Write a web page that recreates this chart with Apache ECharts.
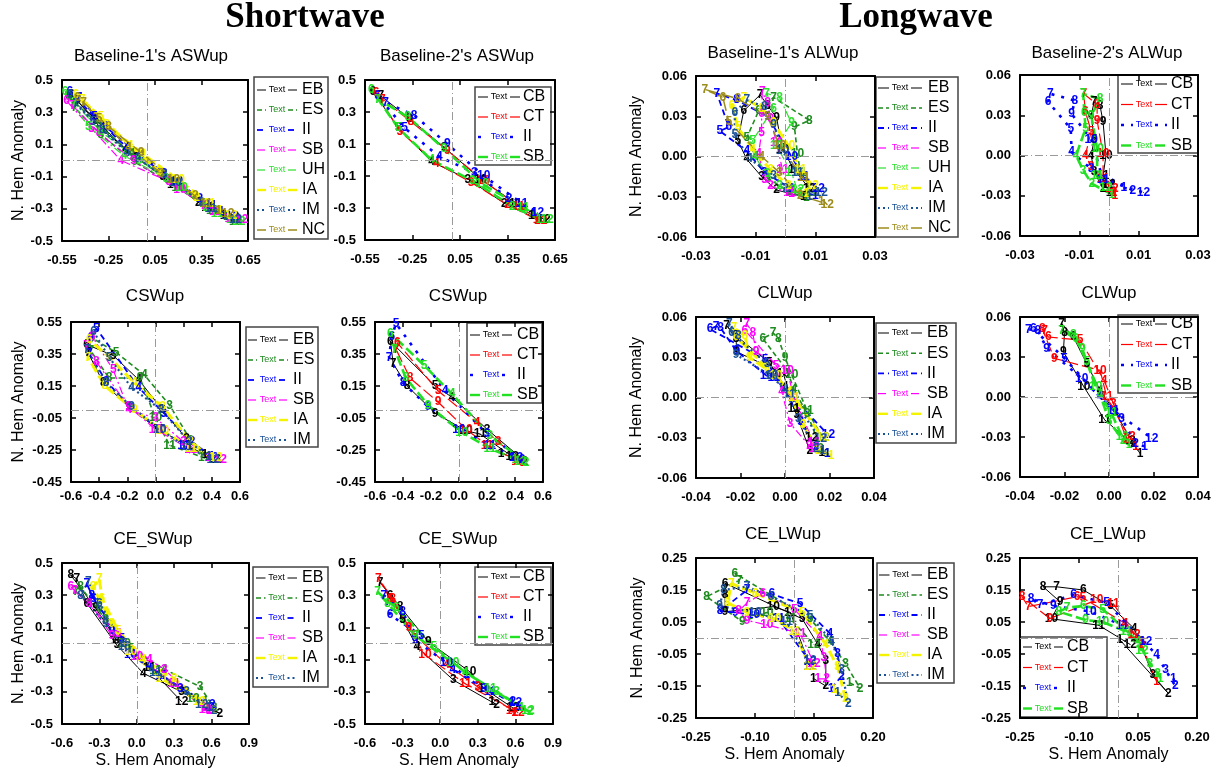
<!DOCTYPE html>
<html>
<head>
<meta charset="utf-8">
<script src="https://cdn.jsdelivr.net/npm/echarts@6/dist/echarts.min.js"></script>
<style>
html,body{margin:0;padding:0;background:#fff;}
#chart{width:1220px;height:769px;}
</style>
</head>
<body>
<div id="chart"></div>
<script>
// Month labels drawn at every point of each annual trajectory
const months = ['1','2','3','4','5','6','7','8','9','10','11','12'];

// Tick labels for each axis type
const swBaseXTicks = ['-0.55','-0.25','0.05','0.35','0.65'];
const swBaseYTicks = ['-0.5','-0.3','-0.1','0.1','0.3','0.5'];
const swCswXTicks = ['-0.6','-0.4','-0.2','0.0','0.2','0.4','0.6'];
const swCswYTicks = ['-0.45','-0.25','-0.05','0.15','0.35','0.55'];
const swCeXTicks = ['-0.6','-0.3','0.0','0.3','0.6','0.9'];
const swCeYTicks = ['-0.5','-0.3','-0.1','0.1','0.3','0.5'];
const lwBaseXTicks = ['-0.03','-0.01','0.01','0.03'];
const lwBaseYTicks = ['-0.06','-0.03','0.00','0.03','0.06'];
const lwClwXTicks = ['-0.04','-0.02','0.00','0.02','0.04'];
const lwClwYTicks = ['-0.06','-0.03','0.00','0.03','0.06'];
const lwCeXTicks = ['-0.25','-0.10','0.05','0.20'];
const lwCeYTicks = ['-0.25','-0.15','-0.05','0.05','0.15','0.25'];

// Series names per panel
const namesA8 = ['EB','ES','II','SB','UH','IA','IM','NC'];
const namesA6 = ['EB','ES','II','SB','IA','IM'];
const namesB4 = ['CB','CT','II','SB'];

// Monthly [S. Hem anomaly, N. Hem anomaly] pairs, months 1..12
const swBase1 = [
  [[0.49,-0.34],[0.33,-0.26],[0.10,-0.10],[-0.14,0.07],[-0.33,0.25],[-0.49,0.41],[-0.45,0.37],[-0.29,0.19],[-0.07,0.02],[0.17,-0.15],[0.39,-0.29],[0.56,-0.36]],
  [[0.51,-0.35],[0.36,-0.27],[0.13,-0.12],[-0.10,0.04],[-0.31,0.22],[-0.51,0.40],[-0.47,0.33],[-0.30,0.16],[-0.08,-0.01],[0.20,-0.17],[0.42,-0.31],[0.57,-0.38]],
  [[0.48,-0.32],[0.34,-0.24],[0.11,-0.08],[-0.13,0.08],[-0.34,0.27],[-0.50,0.43],[-0.44,0.39],[-0.27,0.21],[-0.04,0.03],[0.19,-0.13],[0.41,-0.28],[0.55,-0.35]],
  [[0.52,-0.36],[0.37,-0.28],[0.14,-0.13],[-0.17,0.00],[-0.36,0.20],[-0.52,0.37],[-0.48,0.34],[-0.31,0.17],[-0.09,0.00],[0.21,-0.18],[0.44,-0.32],[0.61,-0.37]],
  [[0.53,-0.37],[0.38,-0.29],[0.12,-0.11],[-0.15,0.03],[-0.38,0.21],[-0.53,0.43],[-0.47,0.36],[-0.30,0.18],[-0.05,0.00],[0.22,-0.17],[0.45,-0.33],[0.59,-0.38]],
  [[0.47,-0.31],[0.32,-0.23],[0.08,-0.07],[-0.11,0.09],[-0.30,0.27],[-0.46,0.41],[-0.42,0.38],[-0.26,0.22],[-0.03,0.04],[0.20,-0.12],[0.40,-0.27],[0.54,-0.34]],
  [[0.50,-0.34],[0.35,-0.26],[0.11,-0.09],[-0.13,0.05],[-0.35,0.24],[-0.50,0.41],[-0.46,0.35],[-0.29,0.19],[-0.06,0.01],[0.18,-0.14],[0.41,-0.30],[0.57,-0.37]],
  [[0.46,-0.31],[0.31,-0.22],[0.09,-0.08],[-0.12,0.08],[-0.31,0.26],[-0.45,0.39],[-0.41,0.36],[-0.25,0.21],[-0.04,0.05],[0.17,-0.12],[0.38,-0.27],[0.52,-0.33]]
];
const swBase2 = [
  [[0.50,-0.35],[0.33,-0.27],[0.10,-0.12],[-0.13,-0.01],[-0.34,0.20],[-0.50,0.43],[-0.45,0.40],[-0.27,0.26],[-0.05,0.08],[0.18,-0.12],[0.40,-0.27],[0.58,-0.37]],
  [[0.53,-0.37],[0.35,-0.28],[0.12,-0.14],[-0.10,-0.02],[-0.33,0.18],[-0.48,0.42],[-0.44,0.38],[-0.26,0.24],[-0.03,0.06],[0.20,-0.13],[0.42,-0.29],[0.56,-0.38]],
  [[0.52,-0.33],[0.36,-0.24],[0.14,-0.08],[-0.08,0.02],[-0.30,0.20],[-0.47,0.40],[-0.42,0.36],[-0.24,0.28],[-0.03,0.10],[0.20,-0.10],[0.44,-0.27],[0.54,-0.33]],
  [[0.55,-0.37],[0.38,-0.29],[0.13,-0.13],[-0.13,0.00],[-0.34,0.20],[-0.51,0.44],[-0.47,0.38],[-0.28,0.27],[-0.05,0.07],[0.19,-0.15],[0.45,-0.30],[0.60,-0.37]]
];
const swCsw1 = [
  [[0.35,-0.28],[0.22,-0.18],[0.05,0.00],[-0.12,0.19],[-0.30,0.34],[-0.49,0.41],[-0.48,0.36],[-0.37,0.17],[-0.19,0.02],[0.02,-0.12],[0.22,-0.22],[0.42,-0.31]],
  [[0.38,-0.29],[0.25,-0.19],[0.10,0.03],[-0.08,0.22],[-0.28,0.36],[-0.45,0.45],[-0.46,0.37],[-0.33,0.20],[-0.11,0.20],[0.00,-0.05],[0.10,-0.22],[0.35,-0.30]],
  [[0.40,-0.29],[0.26,-0.20],[0.06,-0.02],[-0.12,0.14],[-0.42,0.51],[-0.46,0.45],[-0.47,0.35],[-0.35,0.18],[-0.17,0.01],[0.03,-0.125],[0.20,-0.22],[0.40,-0.30]],
  [[0.38,-0.30],[0.20,-0.20],[0.00,-0.05],[-0.19,0.00],[-0.30,0.25],[-0.45,0.46],[-0.49,0.40],[-0.42,0.30],[-0.19,0.02],[0.00,-0.12],[0.25,-0.25],[0.46,-0.31]],
  [[0.40,-0.30],[0.25,-0.20],[0.05,0.02],[-0.15,0.17],[-0.33,0.33],[-0.47,0.44],[-0.48,0.33],[-0.36,0.15],[-0.15,0.00],[0.05,-0.13],[0.25,-0.24],[0.43,-0.30]],
  [[0.38,-0.29],[0.24,-0.20],[0.04,0.00],[-0.17,0.14],[-0.33,0.33],[-0.44,0.49],[-0.49,0.38],[-0.35,0.17],[-0.17,0.02],[0.03,-0.12],[0.22,-0.23],[0.41,-0.31]]
];
const swCsw2 = [
  [[0.30,-0.27],[0.47,-0.32],[0.20,-0.12],[-0.05,0.08],[-0.17,0.15],[-0.49,0.43],[-0.47,0.29],[-0.37,0.15],[-0.17,-0.02],[0.05,-0.13],[0.15,-0.15],[0.38,-0.29]],
  [[0.40,-0.31],[0.46,-0.33],[0.28,-0.20],[0.13,-0.08],[-0.15,0.12],[-0.44,0.42],[-0.45,0.38],[-0.35,0.20],[-0.15,0.05],[0.05,-0.12],[0.20,-0.22],[0.42,-0.32]],
  [[0.38,-0.30],[0.45,-0.31],[0.20,-0.15],[-0.10,0.12],[-0.45,0.54],[-0.48,0.46],[-0.50,0.33],[-0.40,0.17],[-0.22,0.02],[0.00,-0.12],[0.22,-0.22],[0.41,-0.30]],
  [[0.40,-0.31],[0.48,-0.33],[0.22,-0.16],[-0.05,0.10],[-0.25,0.28],[-0.49,0.48],[-0.46,0.38],[-0.38,0.20],[-0.22,0.03],[0.02,-0.14],[0.22,-0.24],[0.44,-0.32]]
];
const swCe1 = [
  [[0.55,-0.40],[0.667,-0.434],[0.36,-0.30],[0.052,-0.185],[-0.161,-0.009],[-0.40,0.25],[-0.48,0.40],[-0.53,0.425],[-0.33,0.22],[-0.161,0.02],[0.10,-0.15],[0.36,-0.361]],
  [[0.55,-0.36],[0.62,-0.40],[0.507,-0.268],[0.22,-0.16],[-0.05,-0.03],[-0.30,0.22],[-0.49,0.32],[-0.45,0.35],[-0.25,0.15],[-0.10,0.00],[0.15,-0.17],[0.45,-0.34]],
  [[0.55,-0.40],[0.60,-0.40],[0.35,-0.28],[0.10,-0.14],[-0.12,0.03],[-0.35,0.28],[-0.40,0.37],[-0.36,0.30],[-0.20,0.08],[-0.05,-0.07],[0.20,-0.20],[0.58,-0.38]],
  [[0.58,-0.42],[0.55,-0.40],[0.22,-0.16],[0.10,-0.10],[-0.15,0.06],[-0.53,0.353],[-0.50,0.33],[-0.38,0.25],[-0.20,0.05],[0.00,-0.08],[0.30,-0.25],[0.55,-0.41]],
  [[0.55,-0.38],[0.62,-0.42],[0.30,-0.22],[0.05,-0.10],[-0.15,0.08],[-0.28,0.28],[-0.30,0.40],[-0.35,0.35],[-0.20,0.12],[-0.05,-0.05],[0.20,-0.22],[0.50,-0.36]],
  [[0.58,-0.40],[0.62,-0.42],[0.40,-0.30],[0.12,-0.16],[-0.10,0.00],[-0.30,0.25],[-0.389,0.384],[-0.45,0.30],[-0.25,0.12],[-0.10,-0.02],[0.15,-0.18],[0.52,-0.38]]
];
const swCe2 = [
  [[0.411,-0.36],[0.45,-0.38],[0.105,-0.227],[-0.187,-0.02],[-0.30,0.15],[-0.40,0.30],[-0.48,0.38],[-0.32,0.229],[-0.095,0.011],[0.235,-0.175],[0.35,-0.28],[0.58,-0.40]],
  [[0.55,-0.42],[0.60,-0.43],[0.30,-0.27],[0.05,-0.13],[-0.20,0.05],[-0.40,0.28],[-0.494,0.405],[-0.38,0.28],[-0.25,0.10],[-0.121,-0.071],[0.20,-0.25],[0.62,-0.43]],
  [[0.63,-0.39],[0.58,-0.36],[0.35,-0.28],[0.10,-0.16],[-0.15,0.05],[-0.40,0.177],[-0.45,0.30],[-0.30,0.20],[-0.20,0.02],[0.05,-0.12],[0.40,-0.30],[0.60,-0.37]],
  [[0.65,-0.40],[0.717,-0.424],[0.45,-0.30],[0.20,-0.18],[-0.05,-0.02],[-0.35,0.22],[-0.50,0.32],[-0.42,0.25],[-0.20,0.05],[0.10,-0.12],[0.40,-0.28],[0.70,-0.42]]
];
const lwBase1 = [
  [[0.006,-0.030],[-0.003,-0.025],[-0.008,-0.015],[-0.013,-0.002],[-0.016,0.012],[-0.014,0.034],[-0.0085,0.046],[-0.006,0.038],[-0.003,0.029],[-0.001,0.005],[0.003,-0.010],[0.008,-0.024]],
  [[0.007,-0.031],[0.001,-0.026],[-0.006,-0.016],[-0.010,0.000],[-0.013,0.014],[-0.009,0.034],[-0.004,0.044],[0.008,0.027],[0.003,0.022],[0.004,0.002],[0.005,-0.012],[0.009,-0.027]],
  [[0.010,-0.029],[0.002,-0.024],[-0.007,-0.012],[-0.013,0.004],[-0.022,0.019],[-0.019,0.022],[-0.023,0.047],[-0.0164,0.042],[-0.006,0.030],[0.002,0.000],[0.006,-0.015],[0.011,-0.024]],
  [[0.002,-0.028],[-0.005,-0.022],[-0.007,-0.017],[-0.009,0.002],[-0.008,0.018],[-0.008,0.032],[-0.0078,0.048],[-0.006,0.040],[-0.005,0.028],[-0.003,0.010],[-0.001,-0.010],[0.0015,-0.027]],
  [[0.005,-0.027],[-0.002,-0.022],[-0.006,-0.013],[-0.0104,0.000],[-0.011,0.012],[-0.004,0.036],[-0.0063,0.047],[-0.002,0.044],[0.002,0.025],[-0.003,0.008],[0.002,-0.012],[0.004,-0.025]],
  [[0.007,-0.028],[0.001,-0.022],[-0.005,-0.010],[-0.011,0.005],[-0.016,0.022],[-0.018,0.038],[-0.014,0.044],[-0.008,0.036],[-0.004,0.025],[0.001,0.008],[0.005,-0.010],[0.009,-0.022]],
  [[0.008,-0.030],[0.000,-0.024],[-0.004,-0.014],[-0.012,-0.002],[-0.017,0.016],[-0.017,0.033],[-0.013,0.042],[-0.007,0.037],[-0.004,0.024],[-0.001,0.004],[0.004,-0.012],[0.012,-0.027]],
  [[0.012,-0.034],[0.005,-0.029],[-0.002,-0.012],[-0.008,0.000],[-0.019,0.026],[-0.021,0.044],[-0.027,0.050],[-0.016,0.043],[-0.006,0.030],[-0.002,0.008],[0.006,-0.016],[0.014,-0.036]]
];
const lwBase2 = [
  [[0.000,-0.028],[-0.002,-0.025],[-0.005,-0.012],[-0.006,0.000],[-0.005,0.012],[-0.006,0.030],[-0.005,0.040],[-0.003,0.037],[-0.002,0.025],[-0.001,0.000],[-0.002,-0.015],[0.000,-0.022]],
  [[0.002,-0.030],[0.0017,-0.028],[-0.006,-0.008],[-0.008,0.000],[-0.006,0.018],[-0.008,0.033],[-0.0085,0.046],[-0.004,0.038],[-0.004,0.026],[-0.002,0.001],[-0.002,-0.017],[0.001,-0.025]],
  [[0.005,-0.024],[0.008,-0.026],[-0.006,-0.010],[-0.0126,0.0025],[-0.0129,0.020],[-0.0205,0.040],[-0.0198,0.046],[-0.0115,0.041],[-0.0126,0.031],[-0.006,0.012],[-0.002,-0.018],[0.0116,-0.0275]],
  [[0.0009,-0.029],[-0.0058,-0.021],[-0.0087,-0.011],[-0.0111,0.000],[-0.0079,0.020],[-0.0083,0.032],[-0.0087,0.046],[-0.003,0.042],[-0.006,0.030],[-0.004,0.005],[-0.004,-0.015],[-0.001,-0.024]]
];
const lwClw1 = [
  [[0.0165,-0.041],[0.0112,-0.040],[0.0053,-0.013],[0.000,0.008],[-0.007,0.026],[-0.022,0.046],[-0.0262,0.0535],[-0.022,0.044],[-0.0217,0.034],[-0.0008,0.018],[0.004,-0.008],[0.012,-0.030]],
  [[0.019,-0.042],[0.016,-0.038],[0.010,-0.012],[0.004,0.006],[0.001,0.020],[-0.010,0.044],[-0.0053,0.048],[-0.003,0.044],[0.000,0.030],[0.003,0.017],[0.010,-0.010],[0.017,-0.030]],
  [[0.019,-0.042],[0.014,-0.037],[0.007,-0.018],[0.000,0.006],[-0.009,0.028],[-0.0337,0.051],[-0.031,0.053],[-0.029,0.052],[-0.022,0.035],[-0.0083,0.0163],[-0.005,0.015],[0.0195,-0.028]],
  [[0.012,-0.038],[0.011,-0.036],[0.0023,-0.0193],[-0.0015,0.0043],[-0.004,0.024],[-0.018,0.050],[-0.0172,0.055],[-0.0145,0.048],[-0.013,0.034],[0.001,0.020],[0.004,0.000],[0.013,-0.034]],
  [[0.0207,-0.043],[0.015,-0.040],[0.008,-0.020],[0.002,0.004],[-0.008,0.022],[-0.022,0.045],[-0.023,0.052],[-0.018,0.046],[-0.016,0.030],[-0.004,0.016],[0.004,0.000],[0.017,-0.030]],
  [[0.017,-0.040],[0.014,-0.038],[0.006,-0.016],[0.000,0.006],[-0.008,0.025],[-0.024,0.048],[-0.025,0.055],[-0.021,0.046],[-0.022,0.032],[-0.006,0.016],[0.002,0.002],[0.016,-0.031]]
];
const lwClw2 = [
  [[0.014,-0.0425],[0.011,-0.035],[0.003,-0.012],[-0.004,0.005],[-0.010,0.025],[-0.016,0.045],[-0.0213,0.0553],[-0.020,0.048],[-0.0205,0.034],[-0.0113,0.0077],[-0.002,-0.017],[0.009,-0.033]],
  [[0.012,-0.037],[0.008,-0.032],[0.0019,-0.0047],[-0.0022,0.0125],[-0.013,0.0427],[-0.0273,0.045],[-0.029,0.050],[-0.030,0.051],[-0.0246,0.029],[-0.004,0.020],[-0.001,0.000],[0.009,-0.030]],
  [[0.016,-0.037],[0.012,-0.035],[0.0057,-0.016],[-0.004,0.000],[-0.020,0.029],[-0.034,0.051],[-0.0363,0.0508],[-0.032,0.050],[-0.028,0.0365],[-0.0123,0.014],[0.002,-0.010],[0.0192,-0.031]],
  [[0.009,-0.036],[0.0064,-0.033],[0.000,-0.018],[-0.004,0.002],[-0.010,0.0265],[-0.015,0.044],[-0.0213,0.050],[-0.016,0.047],[-0.012,0.036],[-0.006,0.0077],[0.001,-0.012],[0.006,-0.030]]
];
const lwCe1 = [
  [[0.048,-0.126],[0.080,-0.150],[0.080,-0.070],[0.060,-0.020],[0.020,0.060],[-0.176,0.171],[-0.176,0.150],[-0.176,0.134],[-0.176,0.082],[-0.0534,0.098],[-0.010,0.080],[0.040,-0.090]],
  [[0.140,-0.140],[0.167,-0.157],[0.130,-0.080],[0.090,-0.010],[0.040,0.060],[-0.151,0.202],[-0.140,0.180],[-0.223,0.129],[-0.132,0.051],[-0.070,0.080],[-0.010,0.060],[0.050,-0.020]],
  [[0.0935,-0.157],[0.120,-0.120],[0.110,-0.050],[0.090,0.015],[0.0144,0.108],[-0.0575,0.137],[-0.120,0.150],[-0.189,0.084],[-0.150,0.080],[-0.104,0.072],[-0.040,0.060],[0.040,-0.074]],
  [[0.060,-0.128],[0.0823,-0.128],[0.075,-0.060],[0.065,0.004],[0.000,0.090],[-0.080,0.140],[-0.120,0.110],[-0.142,0.084],[-0.120,0.055],[-0.070,0.041],[0.0144,0.015],[0.050,-0.080]],
  [[0.100,-0.160],[0.130,-0.190],[0.110,-0.090],[0.080,-0.020],[0.020,0.080],[-0.100,0.140],[-0.160,0.170],[-0.170,0.110],[-0.120,0.080],[-0.050,0.060],[0.000,0.020],[0.040,-0.090]],
  [[0.110,-0.170],[0.137,-0.204],[0.120,-0.100],[0.095,-0.010],[0.040,0.070],[-0.060,0.130],[-0.121,0.161],[-0.180,0.150],[-0.190,0.100],[-0.100,0.080],[-0.020,0.050],[0.040,-0.070]]
];
const lwCe2 = [
  [[0.004,-0.006],[0.127,-0.173],[0.088,-0.116],[0.040,0.030],[-0.020,0.100],[-0.089,0.150],[-0.157,0.160],[-0.191,0.160],[-0.148,0.113],[-0.170,0.060],[-0.050,0.040],[0.030,-0.020]],
  [[0.0975,-0.137],[0.059,-0.020],[0.060,-0.010],[0.017,0.046],[-0.090,0.125],[-0.105,0.129],[-0.229,0.098],[-0.245,0.129],[-0.174,0.061],[-0.055,0.119],[-0.013,0.108],[0.040,0.010]],
  [[0.140,-0.126],[0.145,-0.150],[0.120,-0.100],[0.0975,-0.053],[-0.030,0.110],[-0.114,0.134],[-0.199,0.105],[-0.222,0.123],[-0.165,0.100],[-0.072,0.083],[0.010,0.040],[0.070,-0.010]],
  [[0.107,-0.126],[0.100,-0.110],[0.080,-0.080],[0.050,-0.010],[-0.040,0.090],[-0.089,0.100],[-0.130,0.095],[-0.151,0.082],[-0.083,0.056],[-0.040,0.050],[0.020,0.020],[0.060,-0.040]]
];

// Line styles per experiment
const styleA = {
  EB: {c: '#000000', w: 1,   d: null},
  ES: {c: '#1e8b1e', w: 1.6, d: [5, 3]},
  II: {c: '#0000ff', w: 1.8, d: [6, 4]},
  SB: {c: '#ff00ff', w: 1.2, d: [8, 3, 2, 3]},
  UH: {c: '#2ee02e', w: 1.2, d: [8, 3, 2, 3]},
  IA: {c: '#f4f400', w: 3,   d: [10, 4]},
  IM: {c: '#1a5096', w: 2.2, d: [2, 3]},
  NC: {c: '#9c8c1c', w: 1.5, d: [12, 5]}
};
const styleB = {
  CB: {c: '#000000', w: 1,   d: null},
  CT: {c: '#ff0000', w: 1.2, d: [12, 4]},
  II: {c: '#0000ff', w: 2.6, d: [3, 7]},
  SB: {c: '#22e022', w: 2.6, d: [10, 4]}
};

const SANS = 'Liberation Sans, Arial, Helvetica, sans-serif';
const SERIF = 'Liberation Serif, Times New Roman, serif';

// Panel layout: plot box [left, top, width, height], title centre, legend box
const panels = [
  {title: "Baseline-1's ASWup", names: namesA8, data: swBase1, st: styleA, box: [62, 80, 186, 161], tx: 151, ty: 55,
   xt: swBaseXTicks, yt: swBaseYTicks, yName: 35, xName: 0, xm: 13,
   lg: {x: 254, y: 77, w: 74, h: 162, l0: 257, l1: 297, nx: 302, r0: 90, step: 20}},
  {title: "Baseline-2's ASWup", names: namesB4, data: swBase2, st: styleB, box: [365, 80, 190, 160], tx: 457, ty: 55,
   xt: swBaseXTicks, yt: swBaseYTicks, yName: 0, xName: 0, xm: 13,
   lg: {x: 475, y: 87, w: 76, h: 78, l0: 478, l1: 520, nx: 523, r0: 97, step: 20}},
  {title: 'CSWup', names: namesA6, data: swCsw1, st: styleA, box: [71, 322, 169, 160], tx: 155, ty: 295,
   xt: swCswXTicks, yt: swCswYTicks, yName: 44, xName: 0, xm: 8,
   lg: {x: 246, y: 327, w: 72, h: 120, l0: 248, l1: 288, nx: 293, r0: 340, step: 20}},
  {title: 'CSWup', names: namesB4, data: swCsw2, st: styleB, box: [375, 322, 168, 160], tx: 458, ty: 295,
   xt: swCswXTicks, yt: swCswYTicks, yName: 0, xName: 0, xm: 8,
   lg: {x: 467, y: 323, w: 75, h: 80, l0: 470, l1: 512, nx: 517, r0: 335, step: 20}},
  {title: 'CE_SWup', names: namesA6, data: swCe1, st: styleA, box: [62, 563, 187, 161], tx: 153, ty: 538,
   xt: swCeXTicks, yt: swCeYTicks, yName: 34, xName: 29, xm: 13,
   lg: {x: 253, y: 567, w: 75, h: 120, l0: 256, l1: 297, nx: 302, r0: 578, step: 20}},
  {title: 'CE_SWup', names: namesB4, data: swCe2, st: styleB, box: [365, 563, 188, 161], tx: 458, ty: 538,
   xt: swCeXTicks, yt: swCeYTicks, yName: 0, xName: 29, xm: 13,
   lg: {x: 475, y: 567, w: 76, h: 78, l0: 478, l1: 520, nx: 523, r0: 577, step: 20}},
  {title: "Baseline-1's ALWup", names: namesA8, data: lwBase1, st: styleA, box: [696, 76, 179, 161], tx: 783, ty: 52,
   xt: lwBaseXTicks, yt: lwBaseYTicks, yName: 51, xName: 0, xm: 13,
   lg: {x: 876, y: 77, w: 82, h: 160, l0: 878, l1: 922, nx: 928, r0: 88, step: 20}},
  {title: "Baseline-2's ALWup", names: namesB4, data: lwBase2, st: styleB, box: [1020, 75, 178, 161], tx: 1107, ty: 52,
   xt: lwBaseXTicks, yt: lwBaseYTicks, yName: 0, xName: 0, xm: 13,
   lg: {x: 1118, y: 75, w: 80, h: 78, l0: 1121, l1: 1167, nx: 1171, r0: 84, step: 20.5}},
  {title: 'CLWup', names: namesA6, data: lwClw1, st: styleA, box: [696, 317, 178, 161], tx: 785, ty: 292,
   xt: lwClwXTicks, yt: lwClwYTicks, yName: 51, xName: 0, xm: 13,
   lg: {x: 876, y: 323, w: 80, h: 120, l0: 878, l1: 922, nx: 927, r0: 333, step: 20.2}},
  {title: 'CLWup', names: namesB4, data: lwClw2, st: styleB, box: [1020, 317, 178, 160], tx: 1109, ty: 292,
   xt: lwClwXTicks, yt: lwClwYTicks, yName: 0, xName: 0, xm: 13,
   lg: {x: 1118, y: 315, w: 80, h: 78, l0: 1121, l1: 1167, nx: 1171, r0: 324, step: 20.5}},
  {title: 'CE_LWup', names: namesA6, data: lwCe1, st: styleA, box: [696, 558, 177, 160], tx: 783, ty: 533,
   xt: lwCeXTicks, yt: lwCeYTicks, yName: 50, xName: 29, xm: 13,
   lg: {x: 877, y: 563, w: 77, h: 120, l0: 879, l1: 922, nx: 927, r0: 575, step: 20}},
  {title: 'CE_LWup', names: namesB4, data: lwCe2, st: styleB, box: [1020, 558, 177, 160], tx: 1108, ty: 533,
   xt: lwCeXTicks, yt: lwCeYTicks, yName: 0, xName: 29, xm: 13,
   lg: {x: 1020, y: 637, w: 87, h: 80, l0: 1023, l1: 1063, nx: 1067, r0: 647, step: 20.5}}
];

function tickLabel(labels, v) {
  const idx = labels.findIndex(t => Math.abs(Number(t) - v) < 1e-9);
  return idx >= 0 ? labels[idx] : '';
}

const grids = [], xAxes = [], yAxes = [], series = [], titles = [], graphics = [];

titles.push({text: 'Shortwave', left: 305, top: 0, textAlign: 'center', padding: 0,
  textStyle: {fontFamily: SERIF, fontWeight: 'bold', fontSize: 35, color: '#000'}});
titles.push({text: 'Longwave', left: 916, top: 0, textAlign: 'center', padding: 0,
  textStyle: {fontFamily: SERIF, fontWeight: 'bold', fontSize: 35, color: '#000'}});

panels.forEach((p, i) => {
  const [bl, bt, bw, bh] = p.box;
  grids.push({left: bl, top: bt, width: bw, height: bh, outerBoundsMode: 'none', containLabel: false});
  const xv = p.xt.map(Number), yv = p.yt.map(Number);
  const frameLine = {show: true, onZero: false, lineStyle: {color: '#000', width: 2}};
  const tick = vals => ({show: true, inside: true, length: 5, customValues: vals, lineStyle: {color: '#000', width: 1.5}});
  const labelStyle = {color: '#000', fontWeight: 'bold', fontSize: 13, fontFamily: SANS};

  xAxes.push({type: 'value', gridIndex: i, position: 'bottom', min: xv[0], max: xv[xv.length - 1],
    axisLine: frameLine, axisTick: tick(xv), splitLine: {show: false},
    axisLabel: Object.assign({show: true, margin: p.xm, customValues: xv, formatter: v => tickLabel(p.xt, v)}, labelStyle),
    name: p.xName ? 'S. Hem Anomaly' : '', nameLocation: 'middle', nameGap: p.xName || 20,
    nameTextStyle: {fontSize: 16, fontFamily: SANS, color: '#000'}});
  xAxes.push({type: 'value', gridIndex: i, position: 'top', min: xv[0], max: xv[xv.length - 1],
    axisLine: frameLine, axisTick: tick(xv), axisLabel: {show: false}, splitLine: {show: false}});
  yAxes.push({type: 'value', gridIndex: i, position: 'left', min: yv[0], max: yv[yv.length - 1],
    axisLine: frameLine, axisTick: tick(yv), splitLine: {show: false},
    axisLabel: Object.assign({show: true, margin: 9, customValues: yv, formatter: v => tickLabel(p.yt, v)}, labelStyle),
    name: p.yName ? 'N. Hem Anomaly' : '', nameLocation: 'middle', nameRotate: 90, nameGap: p.yName || 20,
    nameTextStyle: {fontSize: 16, fontFamily: SANS, color: '#000'}});
  yAxes.push({type: 'value', gridIndex: i, position: 'right', min: yv[0], max: yv[yv.length - 1],
    axisLine: frameLine, axisTick: tick(yv), axisLabel: {show: false}, splitLine: {show: false}});

  titles.push({text: p.title, left: p.tx, top: p.ty - 7, textAlign: 'center', padding: 0,
    textStyle: {fontFamily: SANS, fontWeight: 'normal', fontSize: 17, color: '#000'}});

  p.names.forEach((n, k) => {
    const s = p.st[n];
    const item = {
      type: 'line', name: n, xAxisIndex: 2 * i, yAxisIndex: 2 * i,
      data: p.data[k], symbol: 'circle', symbolSize: 1, showSymbol: true, animation: false,
      itemStyle: {color: s.c},
      lineStyle: {color: s.c, width: s.w, type: s.d || 'solid'},
      label: {show: true, position: 'inside', formatter: q => months[q.dataIndex],
        color: s.c, fontSize: 12, fontWeight: 'bold', fontFamily: SANS},
      emphasis: {disabled: true}, silent: true
    };
    if (k === 0) {
      item.markLine = {silent: true, animation: false, symbol: ['none', 'none'], label: {show: false},
        lineStyle: {color: '#9a9a9a', width: 1, type: [8, 3, 1, 3]},
        data: [{xAxis: 0}, {yAxis: 0}]};
    }
    series.push(item);
  });

  // Legend box: coloured line with a "Text" marker, then the experiment name
  const lg = p.lg;
  const kids = [{type: 'rect', shape: {x: lg.x, y: lg.y, width: lg.w, height: lg.h},
    style: {fill: '#fff', stroke: '#444', lineWidth: 1.5}}];
  p.names.forEach((n, k) => {
    const s = p.st[n];
    const cy = lg.r0 + k * lg.step;
    const mid = (lg.l0 + lg.l1) / 2;
    const ls = {stroke: s.c, lineWidth: Math.min(s.w, 2.4), lineDash: s.d || null};
    kids.push({type: 'line', shape: {x1: lg.l0, y1: cy, x2: mid - 11, y2: cy}, style: ls});
    kids.push({type: 'line', shape: {x1: mid + 11, y1: cy, x2: lg.l1, y2: cy}, style: ls});
    kids.push({type: 'text', x: mid, y: cy, style: {text: 'Text', fill: s.c, font: '9px ' + SANS,
      align: 'center', verticalAlign: 'middle'}});
    kids.push({type: 'text', x: lg.nx, y: cy, style: {text: n, fill: '#000', font: '16px ' + SANS,
      align: 'left', verticalAlign: 'middle'}});
  });
  graphics.push({type: 'group', z: 100, silent: true, children: kids});
});

const chart = echarts.init(document.getElementById('chart'), null, {renderer: 'canvas'});
chart.setOption({
  backgroundColor: '#fff',
  animation: false,
  title: titles,
  grid: grids,
  xAxis: xAxes,
  yAxis: yAxes,
  series: series,
  graphic: graphics,
  tooltip: {show: false}
});
</script>
</body>
</html>
